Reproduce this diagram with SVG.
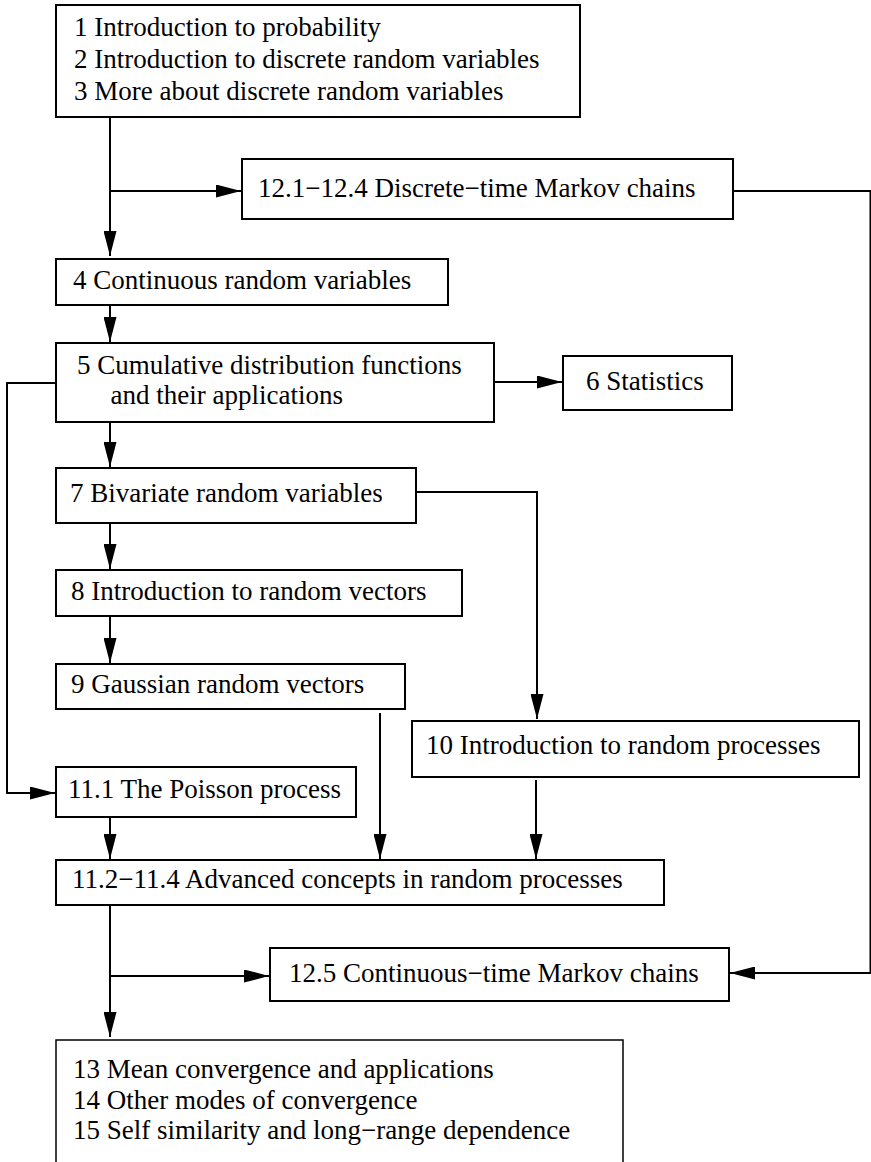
<svg xmlns="http://www.w3.org/2000/svg" width="871" height="1162" viewBox="0 0 871 1162">
  <style>
    .box { fill: #fff; stroke: #000; stroke-width: 2; }
    .thin { fill: #fff; stroke: #000; stroke-width: 1.5; }
    .lbl { font-family: "Liberation Serif", "Times New Roman", serif; font-size: 27px; fill: #000; }
    .conn { fill: none; stroke: #000; stroke-width: 2; }
  </style>
  <defs>
    <marker id="arr" markerUnits="userSpaceOnUse" viewBox="0 0 25 13" markerWidth="25" markerHeight="13" refX="25" refY="6.5" orient="auto">
      <path d="M0,0 L25,6.5 L0,13 Z" fill="#000"/>
    </marker>
  </defs>
  <rect width="871" height="1162" fill="#fff"/>

  <g id="connectors">
    <path class="conn" d="M110,117 V256" marker-end="url(#arr)"/>
    <path class="conn" d="M110,191 H241" marker-end="url(#arr)"/>
    <path class="conn" d="M733,191 H870.5 V973 H730" marker-end="url(#arr)"/>
    <path class="conn" d="M110,305 V342" marker-end="url(#arr)"/>
    <path class="conn" d="M494,382 H562" marker-end="url(#arr)"/>
    <path class="conn" d="M55,383 H7 V793 H55" marker-end="url(#arr)"/>
    <path class="conn" d="M110,422 V467" marker-end="url(#arr)"/>
    <path class="conn" d="M416,492 H537 V719" marker-end="url(#arr)"/>
    <path class="conn" d="M110,523 V569" marker-end="url(#arr)"/>
    <path class="conn" d="M110,616 V663" marker-end="url(#arr)"/>
    <path class="conn" d="M380,713 V859" marker-end="url(#arr)"/>
    <path class="conn" d="M536,780 V859" marker-end="url(#arr)"/>
    <path class="conn" d="M110,817 V859" marker-end="url(#arr)"/>
    <path class="conn" d="M110,905 V1037" marker-end="url(#arr)"/>
    <path class="conn" d="M110,976 H269" marker-end="url(#arr)"/>
  </g>

  <g id="n1">
    <rect class="box" x="56" y="5" width="524" height="112"/>
    <text class="lbl" x="74" y="36">1 Introduction to probability</text>
    <text class="lbl" x="74" y="68">2 Introduction to discrete random variables</text>
    <text class="lbl" x="74" y="100">3 More about discrete random variables</text>
  </g>
  <g id="n12a">
    <rect class="box" x="242" y="159" width="491" height="60"/>
    <text class="lbl" x="258" y="197">12.1−12.4 Discrete−time Markov chains</text>
  </g>
  <g id="n4">
    <rect class="box" x="56" y="259" width="392" height="46"/>
    <text class="lbl" x="73" y="289">4 Continuous random variables</text>
  </g>
  <g id="n5">
    <rect class="box" x="56" y="343" width="438" height="79"/>
    <text class="lbl" x="77" y="373.5">5 Cumulative distribution functions</text>
    <text class="lbl" x="110.5" y="403.5">and their applications</text>
  </g>
  <g id="n6">
    <rect class="box" x="563" y="356" width="169" height="54"/>
    <text class="lbl" x="586" y="390">6 Statistics</text>
  </g>
  <g id="n7">
    <rect class="box" x="56" y="468" width="360" height="55"/>
    <text class="lbl" x="70" y="502">7 Bivariate random variables</text>
  </g>
  <g id="n8">
    <rect class="box" x="56" y="570" width="406" height="46"/>
    <text class="lbl" x="71" y="600">8 Introduction to random vectors</text>
  </g>
  <g id="n9">
    <rect class="box" x="56" y="664" width="349" height="45"/>
    <text class="lbl" x="71" y="693">9 Gaussian random vectors</text>
  </g>
  <g id="n10">
    <rect class="box" x="412" y="721" width="447" height="56"/>
    <text class="lbl" x="426" y="754">10 Introduction to random processes</text>
  </g>
  <g id="n11a">
    <rect class="box" x="56" y="767" width="300" height="50"/>
    <text class="lbl" x="68" y="798">11.1 The Poisson process</text>
  </g>
  <g id="n11b">
    <rect class="box" x="56" y="860" width="608" height="45"/>
    <text class="lbl" x="72" y="888">11.2−11.4 Advanced concepts in random processes</text>
  </g>
  <g id="n12b">
    <rect class="box" x="270" y="948" width="459" height="53"/>
    <text class="lbl" x="289" y="982">12.5 Continuous−time Markov chains</text>
  </g>
  <g id="n13">
    <rect class="thin" x="56" y="1040" width="567" height="140"/>
    <text class="lbl" x="73" y="1078">13 Mean convergence and applications</text>
    <text class="lbl" x="73" y="1109">14 Other modes of convergence</text>
    <text class="lbl" x="73" y="1139">15 Self similarity and long−range dependence</text>
  </g>
</svg>
